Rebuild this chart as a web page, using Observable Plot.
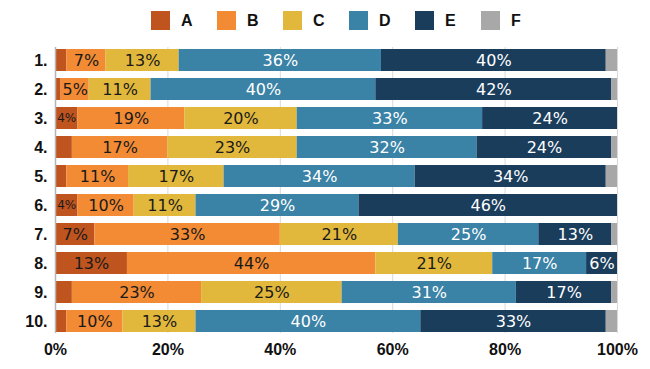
<!DOCTYPE html>
<html>
<head>
<meta charset="utf-8">
<script src="https://cdn.jsdelivr.net/npm/d3@7"></script>
<script src="https://cdn.jsdelivr.net/npm/@observablehq/plot@0.6"></script>
<style>
  html, body { margin: 0; padding: 0; background: #fff; }
  #legend { height: 40px; position: relative; font-family: "Liberation Sans", Arial, sans-serif; font-weight: bold; font-size: 16px; color: #111; }
  .item { position: absolute; top: 11px; display: flex; align-items: center; height: 19px; }
  .sw { width: 19px; height: 19px; margin-right: 11px; }
</style>
</head>
<body>
<div id="legend"></div>
<div id="chart"></div>
<script>
const rows = ["1.", "2.", "3.", "4.", "5.", "6.", "7.", "8.", "9.", "10."];
const categories = ["A", "B", "C", "D", "E", "F"];
const colors = ["#c0541f", "#f28b34", "#e1b83c", "#3a82a6", "#1a3d5c", "#a8a8a8"];
const valuesA = [2, 1, 4, 3, 2, 4, 7, 12.8, 3, 2];
const valuesB = [7, 5, 19, 17, 11, 10, 33, 44.2, 23, 10];
const valuesC = [13, 11, 20, 23, 17, 11, 21, 20.8, 25, 13];
const valuesD = [36, 40, 33, 32, 34, 29, 25, 16.7, 31, 40];
const valuesE = [40, 42, 24, 24, 34, 46, 13, 5.5, 17, 33];
const valuesF = [2, 1, 0, 1, 2, 0, 1, 0, 1, 2];
const xTicks = [0, 20, 40, 60, 80, 100];

const series = [valuesA, valuesB, valuesC, valuesD, valuesE, valuesF];
const data = [];
rows.forEach((r, i) => {
  categories.forEach((c, j) => {
    data.push({row: r, cat: c, value: series[j][i]});
  });
});

// legend
const legend = document.getElementById("legend");
categories.forEach((c, j) => {
  const it = document.createElement("div");
  it.className = "item";
  it.style.left = (151 + j * 66) + "px";
  it.innerHTML = `<div class="sw" style="background:${colors[j]}"></div><span>${c}</span>`;
  legend.appendChild(it);
});

const darkText = new Set(["A", "B", "C"]);

const chart = Plot.plot({
  width: 650,
  height: 329,
  marginLeft: 55,
  marginRight: 33,
  marginTop: 7,
  marginBottom: 36,
  style: {fontFamily: "'Liberation Sans', Arial, sans-serif", background: "#fff"},
  x: {domain: [0, 100], ticks: xTicks, tickFormat: d => d + "%", label: null, grid: false},
  y: {domain: rows, paddingInner: 0.25, paddingOuter: 0, label: null},
  color: {domain: categories, range: colors},
  marks: [
    Plot.gridX(xTicks, {stroke: "#d9d9d9", strokeOpacity: 1}),
    Plot.barX(data, Plot.stackX({x: "value", y: "row", fill: "cat", order: null})),
    Plot.ruleX([0], {stroke: "#b5b5b5", strokeWidth: 1.5}),
    Plot.text(data, Plot.stackX({
      x: "value", y: "row", z: "cat", order: null,
      text: d => d.value >= 3.5 ? Math.round(d.value) + "%" : "",
      fill: d => darkText.has(d.cat) ? "#1a1a1a" : "#ffffff",
      fontSize: d => d.value < 4.5 ? 12 : 16,
      fontFamily: "'DejaVu Sans', Verdana, sans-serif"
    })),
    Plot.axisX(xTicks, {tickSize: 0, tickPadding: 10, tickFormat: d => d + "%", fontSize: 16, fontWeight: "bold", fill: "#111", label: null}),
    Plot.axisY(rows, {tickSize: 0, tickPadding: 8, fontSize: 16, fontWeight: "bold", fill: "#111", label: null})
  ]
});
document.getElementById("chart").appendChild(chart);
</script>
</body>
</html>
